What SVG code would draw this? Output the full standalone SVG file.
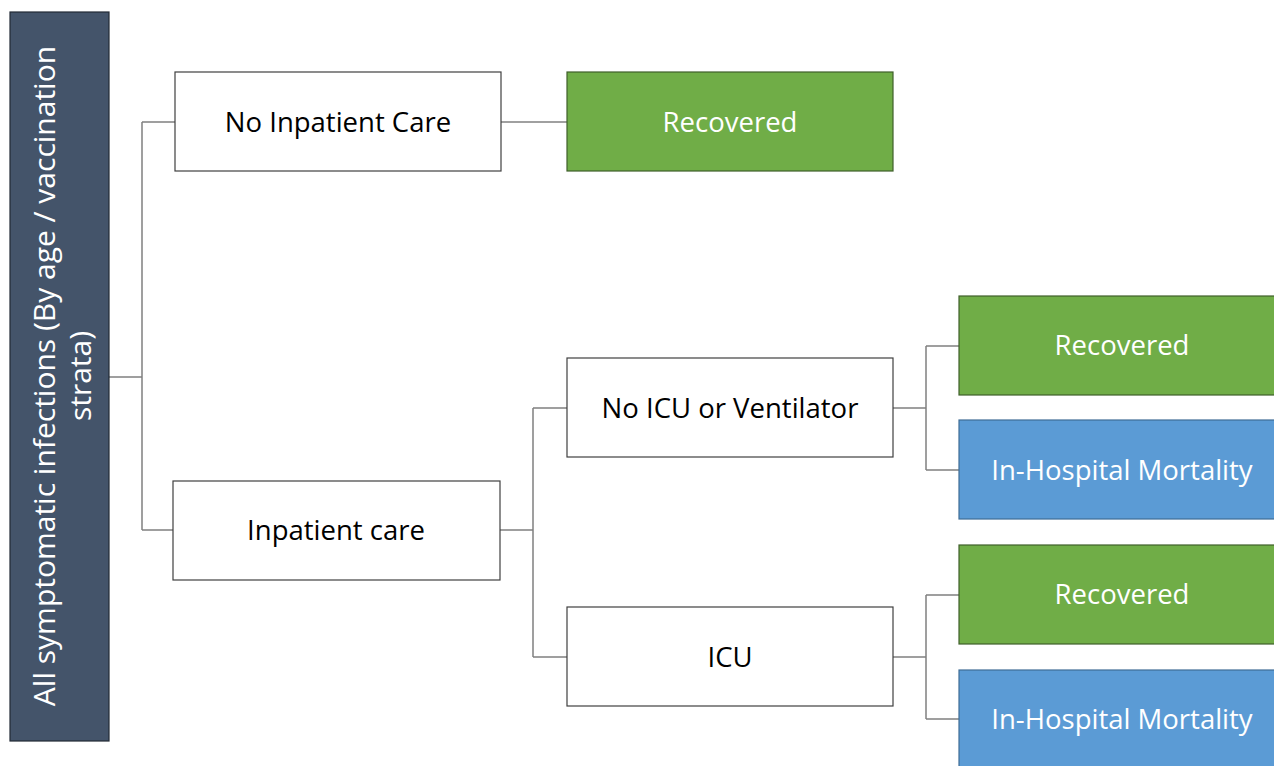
<svg xmlns="http://www.w3.org/2000/svg" width="1274" height="766" viewBox="0 0 1274 766">
<style>
.box{fill:#ffffff;stroke:#404040;stroke-width:1.2}
.green{fill:#70ad47;stroke:#3f5f2a;stroke-width:1.2}
.blue{fill:#5b9bd5;stroke:#3f6d96;stroke-width:1.2}
.dark{fill:#44546a;stroke:#222a35;stroke-width:1.2}
.t{font-family:"Open Sans","Noto Sans","Liberation Sans",sans-serif;font-size:27.5px;text-anchor:middle;dominant-baseline:central}
.tb{fill:#000000}
.tw{fill:#ffffff}
.conn{fill:none;stroke:#808080;stroke-width:1.5}
</style>
<rect width="1274" height="766" fill="#ffffff"/>
<g id="connectors">
<path class="conn" d="M109,377 H142 M142,122 V530 M142,122 H175 M142,530 H173"/>
<path class="conn" d="M501,122 H567"/>
<path class="conn" d="M500,530 H533 M533,408 V657 M533,408 H567 M533,657 H567"/>
<path class="conn" d="M893,408 H926 M926,346 V470 M926,346 H959 M926,470 H959"/>
<path class="conn" d="M893,657 H926 M926,595 V719 M926,595 H959 M926,719 H959"/>
</g>
<g id="root">
<rect class="dark" x="10" y="12" width="99" height="729"/>
<text class="tw" font-family="Open Sans, Noto Sans, Liberation Sans, sans-serif" font-size="30" text-anchor="middle" transform="translate(55,376) rotate(-90)"><tspan x="0" y="0">All symptomatic infections (By age / vaccination</tspan><tspan x="0" y="36">strata)</tspan></text>
</g>
<g id="no-inpatient">
<rect class="box" x="175" y="72" width="326" height="99"/>
<text class="t tb" x="338" y="121">No Inpatient Care</text>
</g>
<g id="recovered-1">
<rect class="green" x="567" y="72" width="326" height="99"/>
<text class="t tw" x="730" y="121">Recovered</text>
</g>
<g id="inpatient">
<rect class="box" x="173" y="481" width="327" height="99"/>
<text class="t tb" x="336" y="529">Inpatient care</text>
</g>
<g id="no-icu">
<rect class="box" x="567" y="358" width="326" height="99"/>
<text class="t tb" x="730" y="407">No ICU or Ventilator</text>
</g>
<g id="icu">
<rect class="box" x="567" y="607" width="326" height="99"/>
<text class="t tb" x="730" y="656">ICU</text>
</g>
<g id="recovered-2">
<rect class="green" x="959" y="296" width="326" height="99"/>
<text class="t tw" x="1122" y="344">Recovered</text>
</g>
<g id="mortality-1">
<rect class="blue" x="959" y="420" width="326" height="99"/>
<text class="t tw" x="1122" y="469">In-Hospital Mortality</text>
</g>
<g id="recovered-3">
<rect class="green" x="959" y="545" width="326" height="99"/>
<text class="t tw" x="1122" y="593">Recovered</text>
</g>
<g id="mortality-2">
<rect class="blue" x="959" y="670" width="326" height="99"/>
<text class="t tw" x="1122" y="718">In-Hospital Mortality</text>
</g>
</svg>
